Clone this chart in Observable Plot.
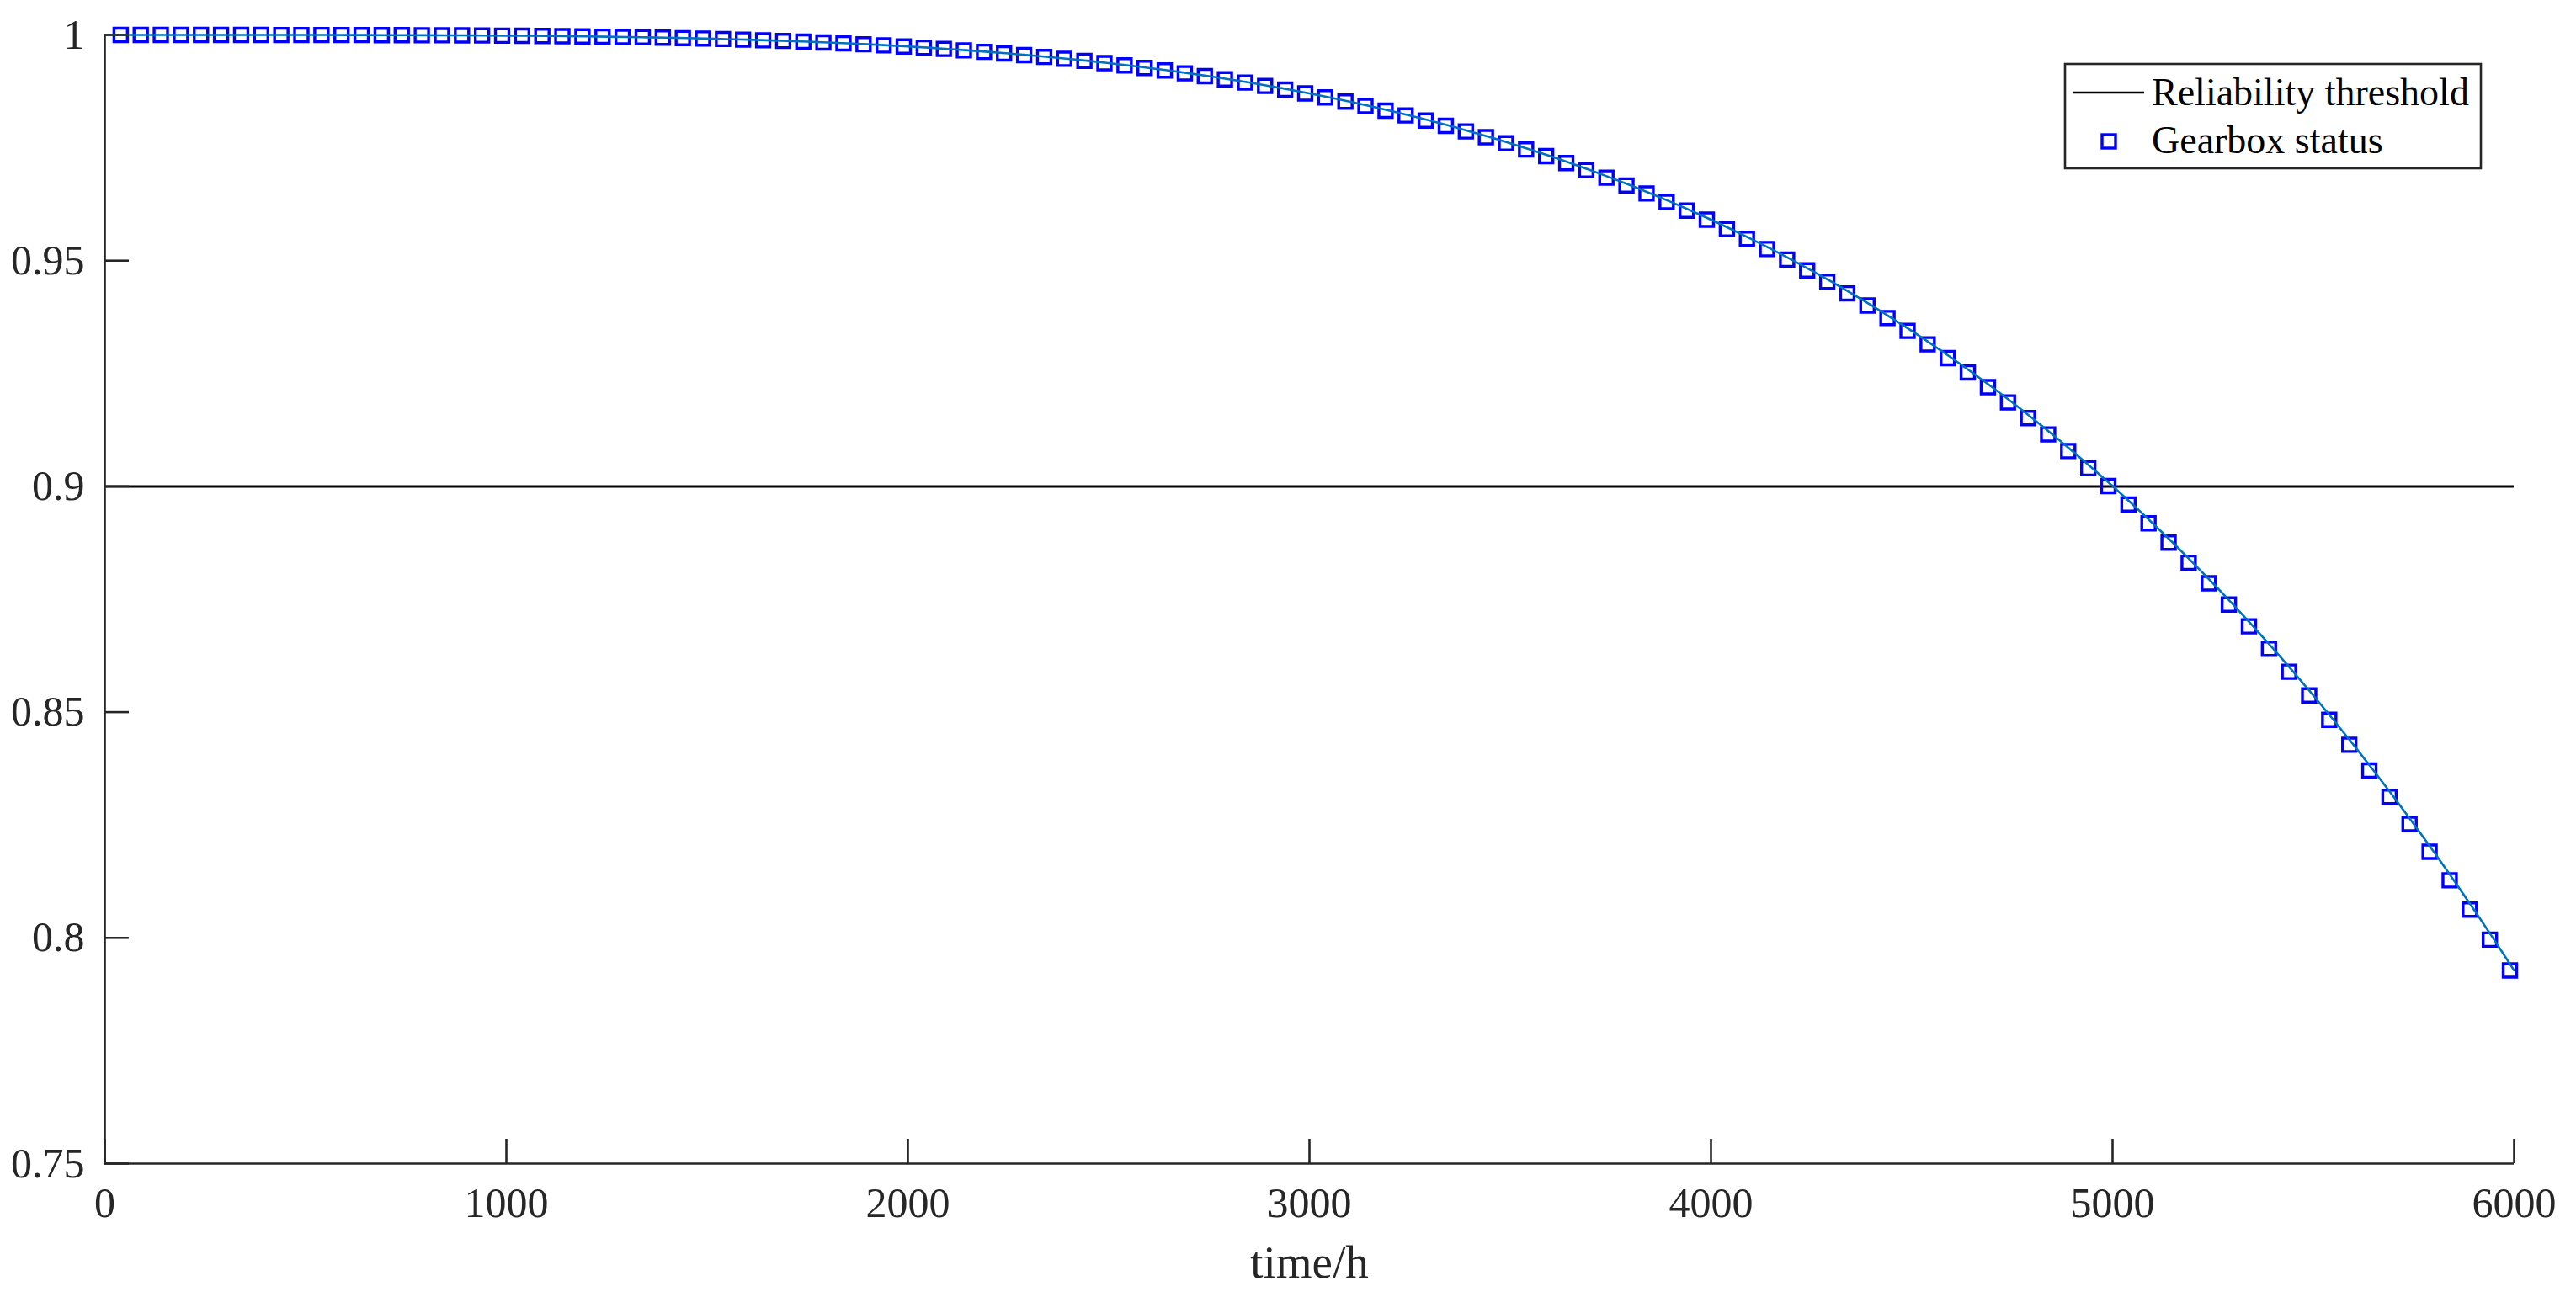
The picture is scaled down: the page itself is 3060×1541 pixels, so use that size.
<!DOCTYPE html>
<html>
<head>
<meta charset="utf-8">
<script src="https://cdn.jsdelivr.net/npm/d3@7"></script>
<script src="https://cdn.jsdelivr.net/npm/@observablehq/plot@0.6"></script>
<style>
  html, body { margin: 0; padding: 0; background: #ffffff; }
  #wrap { position: relative; width: 3060px; height: 1541px; }
  #wrap svg { position: absolute; left: 0; top: 0; }
</style>
</head>
<body>
<div id="wrap"></div>
<script>
// ---- data ----
const times = [50,100,150,200,250,300,350,400,450,500,550,600,650,700,750,800,850,900,950,1000,
  1050,1100,1150,1200,1250,1300,1350,1400,1450,1500,1550,1600,1650,1700,1750,1800,1850,1900,1950,2000,
  2050,2100,2150,2200,2250,2300,2350,2400,2450,2500,2550,2600,2650,2700,2750,2800,2850,2900,2950,3000,
  3050,3100,3150,3200,3250,3300,3350,3400,3450,3500,3550,3600,3650,3700,3750,3800,3850,3900,3950,4000,
  4050,4100,4150,4200,4250,4300,4350,4400,4450,4500,4550,4600,4650,4700,4750,4800,4850,4900,4950,5000,
  5050,5100,5150,5200,5250,5300,5350,5400,5450,5500,5550,5600,5650,5700,5750,5800,5850,5900,5950,6000];

const reliability = [1.00000,1.00000,1.00000,1.00000,1.00000,1.00000,1.00000,1.00000,0.99999,0.99999,
  0.99999,0.99998,0.99997,0.99996,0.99995,0.99993,0.99992,0.99990,0.99987,0.99984,
  0.99981,0.99977,0.99972,0.99967,0.99961,0.99954,0.99947,0.99939,0.99929,0.99919,
  0.99908,0.99895,0.99881,0.99866,0.99850,0.99832,0.99813,0.99792,0.99769,0.99744,
  0.99718,0.99689,0.99658,0.99625,0.99590,0.99553,0.99512,0.99470,0.99424,0.99375,
  0.99324,0.99269,0.99212,0.99150,0.99086,0.99017,0.98945,0.98869,0.98789,0.98705,
  0.98616,0.98523,0.98426,0.98323,0.98216,0.98104,0.97986,0.97863,0.97735,0.97601,
  0.97461,0.97315,0.97162,0.97003,0.96838,0.96666,0.96487,0.96301,0.96108,0.95907,
  0.95698,0.95482,0.95258,0.95025,0.94784,0.94534,0.94275,0.94007,0.93730,0.93444,
  0.93147,0.92841,0.92525,0.92198,0.91861,0.91513,0.91153,0.90783,0.90401,0.90007,
  0.89601,0.89183,0.88753,0.88310,0.87854,0.87384,0.86901,0.86405,0.85894,0.85370,
  0.84830,0.84276,0.83707,0.83123,0.82523,0.81907,0.81275,0.80626,0.79961,0.79279];

const startTime = 0;
const startReliability = 1;
const threshold = 0.9;

const xTicks = [0, 1000, 2000, 3000, 4000, 5000, 6000];
const yTicks = [0.75, 0.8, 0.85, 0.9, 0.95, 1];
const yTickLabels = ["0.75", "0.8", "0.85", "0.9", "0.95", "1"];
const xLabel = "time/h";
const legendLabels = ["Reliability threshold", "Gearbox status"];

// ---- tables built from the arrays ----
const markers = times.map((t, i) => ({t, r: reliability[i]}));
const curve = [{t: startTime, r: startReliability}, ...markers];

// ---- layout ----
const W = 3060, H = 1541;
const mL = 124, mR = 74, mT = 41, mB = 159;
const plotW = W - mL - mR, plotH = H - mT - mB;
const font = "'Liberation Serif', 'Times New Roman', serif";
const axisColor = "#262626";
const tickLen = 29;

const chart = Plot.plot({
  width: W,
  height: H,
  marginLeft: mL,
  marginRight: mR,
  marginTop: mT,
  marginBottom: mB,
  style: {fontFamily: font, background: "#ffffff", overflow: "visible"},
  x: {domain: [0, 6000], axis: null},
  y: {domain: [0.75, 1], axis: null},
  marks: [
    // threshold
    Plot.ruleY([threshold], {stroke: "#000000", strokeWidth: 3}),
    // gearbox status markers
    Plot.dot(markers, {x: "t", y: "r", symbol: "square", r: 9, stroke: "#0000FF", strokeWidth: 3.4, fill: "none", dx: -5}),
    // fitted curve
    Plot.line(curve, {x: "t", y: "r", stroke: "#0072BD", strokeWidth: 2.6}),
    // axes lines
    Plot.ruleX([0], {stroke: axisColor, strokeWidth: 2.6}),
    Plot.ruleY([0.75], {stroke: axisColor, strokeWidth: 2.6}),
    // inward ticks
    Plot.tickX(xTicks, {x: d => d, insetTop: plotH - tickLen, stroke: axisColor, strokeWidth: 2.6}),
    Plot.tickY(yTicks, {y: d => d, insetRight: plotW - tickLen, stroke: axisColor, strokeWidth: 2.6}),
    // tick labels
    Plot.text(xTicks, {x: d => d, text: d => String(d), frameAnchor: "bottom", lineAnchor: "top", dy: 28,
      fontSize: 50, fontFamily: font, fill: axisColor}),
    Plot.text(yTicks, {y: d => d, text: yTickLabels, frameAnchor: "left", textAnchor: "end", lineAnchor: "middle", dx: -24,
      fontSize: 50, fontFamily: font, fill: axisColor}),
    // x axis label
    Plot.text([xLabel], {text: d => d, frameAnchor: "bottom", lineAnchor: "bottom", dy: 135,
      fontSize: 55, fontFamily: font, fill: axisColor})
  ]
});

const wrap = document.getElementById("wrap");
wrap.appendChild(chart);

// ---- legend (inside the axes, north-east) ----
const ns = "http://www.w3.org/2000/svg";
const leg = document.createElementNS(ns, "svg");
leg.setAttribute("width", W);
leg.setAttribute("height", H);
leg.setAttribute("style", "pointer-events:none");
function el(name, attrs, text) {
  const e = document.createElementNS(ns, name);
  for (const k in attrs) e.setAttribute(k, attrs[k]);
  if (text) e.textContent = text;
  leg.appendChild(e);
  return e;
}
el("rect", {x: 2453, y: 76, width: 494, height: 124, fill: "#ffffff", stroke: axisColor, "stroke-width": 2.6});
el("line", {x1: 2463, x2: 2547, y1: 110, y2: 110, stroke: "#000000", "stroke-width": 2.6});
el("text", {x: 2556, y: 125, "font-family": font, "font-size": 46, fill: "#000000"}, legendLabels[0]);
el("rect", {x: 2505 - 8, y: 168 - 8, width: 16, height: 16, fill: "none", stroke: "#0000FF", "stroke-width": 3.4});
el("text", {x: 2556, y: 182, "font-family": font, "font-size": 46, fill: "#000000"}, legendLabels[1]);
wrap.appendChild(leg);
</script>
</body>
</html>
